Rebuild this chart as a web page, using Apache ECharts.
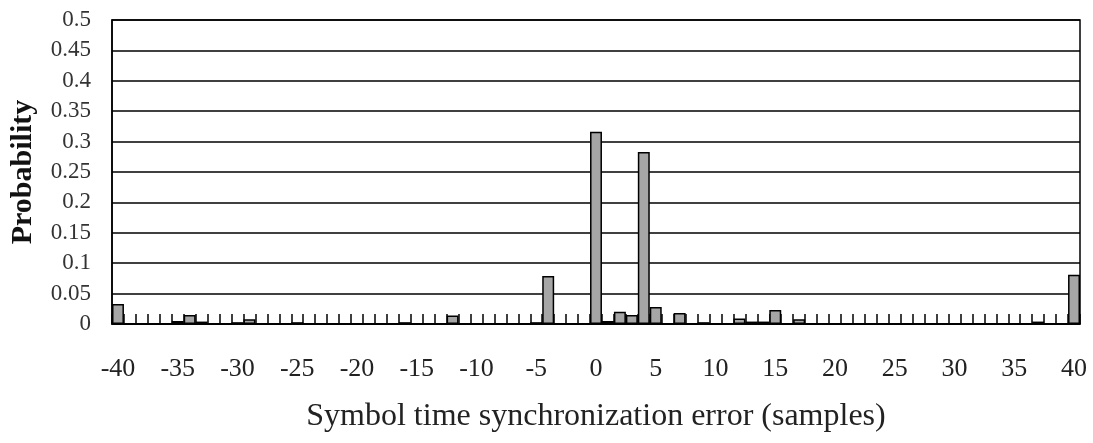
<!DOCTYPE html>
<html>
<head>
<meta charset="utf-8">
<script src="https://cdn.jsdelivr.net/npm/echarts@6/dist/echarts.min.js"></script>
<style>
	html, body { margin: 0; padding: 0; background: #fff; }
	#chart { width: 1093px; height: 443px; }
</style>
</head>
<body>
<div id="chart"></div>
<script>
// x categories: -40 .. 40 samples
var errors = [
	-40, -39, -38, -37, -36, -35, -34, -33, -32, -31,
	-30, -29, -28, -27, -26, -25, -24, -23, -22, -21,
	-20, -19, -18, -17, -16, -15, -14, -13, -12, -11,
	-10, -9, -8, -7, -6, -5, -4, -3, -2, -1,
	0, 1, 2, 3, 4, 5, 6, 7, 8, 9,
	10, 11, 12, 13, 14, 15, 16, 17, 18, 19,
	20, 21, 22, 23, 24, 25, 26, 27, 28, 29,
	30, 31, 32, 33, 34, 35, 36, 37, 38, 39,
	40
];

// probability per error value
var probability = [
	0.033, 0, 0, 0, 0, 0.005, 0.015, 0.004, 0, 0,
	0.003, 0.008, 0, 0, 0, 0.003, 0, 0, 0, 0,
	0, 0, 0, 0, 0.003, 0, 0, 0, 0.014, 0,
	0, 0, 0, 0, 0, 0.003, 0.079, 0, 0, 0,
	0.316, 0.005, 0.02, 0.015, 0.283, 0.028, 0, 0.018, 0, 0.003,
	0, 0, 0.009, 0.004, 0.004, 0.023, 0, 0.008, 0, 0,
	0, 0, 0, 0, 0, 0, 0, 0, 0, 0,
	0, 0, 0, 0, 0, 0, 0, 0.004, 0, 0,
	0.081
];

var chart = echarts.init(document.getElementById('chart'));
var serif = '"Liberation Serif", "DejaVu Serif", serif';

var option = {
	animation: false,
	backgroundColor: '#fff',
	grid: {
		left: 111,
		right: 13,
		top: 20,
		bottom: 119,
		show: true,
		backgroundColor: 'transparent',
		borderColor: '#000',
		borderWidth: 1.5
	},
	xAxis: {
		type: 'category',
		data: errors,
		name: 'Symbol time synchronization error (samples)',
		nameLocation: 'middle',
		nameGap: 77,
		nameTextStyle: {
			fontFamily: serif,
			fontSize: 32,
			color: '#222'
		},
		axisLine: {
			show: true,
			lineStyle: { color: '#000', width: 1.5 }
		},
		axisTick: {
			show: true,
			inside: true,
			length: 10,
			interval: 0,
			alignWithLabel: false,
			lineStyle: { color: '#000', width: 1.5 }
		},
		axisLabel: {
			interval: 4,
			margin: 32,
			fontFamily: serif,
			fontSize: 26,
			color: '#222'
		}
	},
	yAxis: {
		type: 'value',
		min: 0,
		max: 0.5,
		interval: 0.05,
		name: 'Probability',
		nameLocation: 'middle',
		nameGap: 74,
		nameTextStyle: {
			fontFamily: serif,
			fontSize: 30,
			fontWeight: 'bold',
			color: '#111'
		},
		axisLine: {
			show: true,
			lineStyle: { color: '#000', width: 1.5 }
		},
		axisTick: { show: false },
		axisLabel: {
			margin: 21,
			fontFamily: serif,
			fontSize: 23,
			color: '#333'
		},
		splitLine: {
			lineStyle: { color: '#000', width: 1.5 }
		}
	},
	series: [{
		type: 'bar',
		data: probability,
		barCategoryGap: '0%',
		z: 3,
		itemStyle: {
			color: '#a6a6a6',
			borderColor: '#000',
			borderWidth: 1.5
		}
	}]
};

chart.setOption(option);
</script>
</body>
</html>
